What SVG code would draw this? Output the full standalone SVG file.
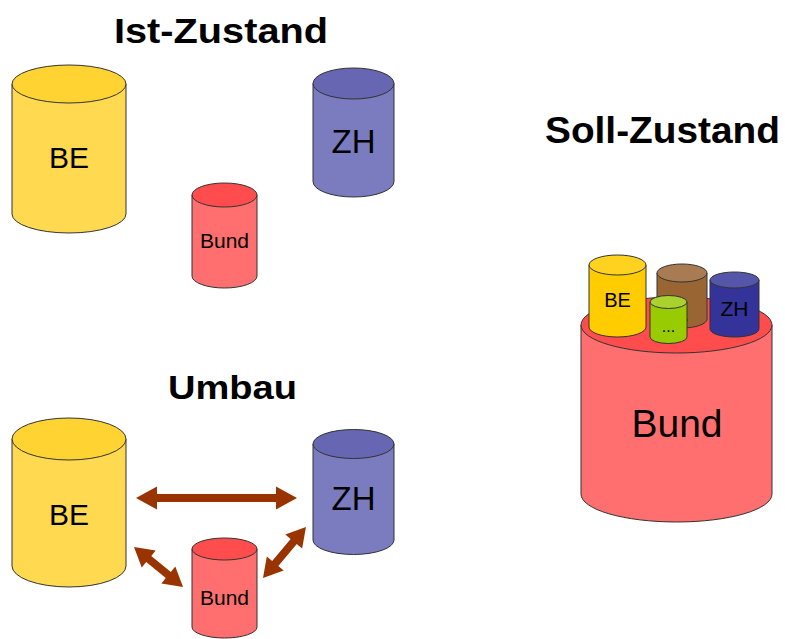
<svg xmlns="http://www.w3.org/2000/svg" width="785" height="639" viewBox="0 0 785 639">
<style>
.cyl{stroke:#333;stroke-width:1}
.lbl{font-family:"Liberation Sans",Arial,sans-serif;text-anchor:middle;fill:#000}
.title{font-family:"Liberation Sans",Arial,sans-serif;font-weight:bold;fill:#000}
.ye{fill:#FFD94F}.yeT{fill:#FFD432}
.vi{fill:#7B7BBF}.viT{fill:#6666B2}
.re{fill:#FF6F6F}.reT{fill:#FF4D4D}
.ye2{fill:#FFCC00}.ye2T{fill:#FFD21F}
.br{fill:#996633}.brT{fill:#A87B52}
.gr{fill:#99CC00}.grT{fill:#AAD22E}
.bl{fill:#333399}.blT{fill:#5555AA}
.arr{fill:#993300}
</style>
<rect width="785" height="639" fill="#fff"/>

<text class="title" x="114" y="43" font-size="35" textLength="214" lengthAdjust="spacingAndGlyphs">Ist-Zustand</text>
<text class="title" x="545" y="143" font-size="36" textLength="235" lengthAdjust="spacingAndGlyphs">Soll-Zustand</text>
<text class="title" x="168" y="399" font-size="34" textLength="129" lengthAdjust="spacingAndGlyphs">Umbau</text>

<!-- Ist-Zustand -->
<g id="ist-be">
<path class="cyl ye" d="M12,84 V214 A57,19 0 0 0 126,214 V84 Z"/>
<ellipse class="cyl yeT" cx="69" cy="84" rx="57" ry="19"/>
<text class="lbl" x="69" y="168" font-size="30">BE</text>
</g>
<g id="ist-zh">
<path class="cyl vi" d="M313,83.5 V181.5 A40.5,15.5 0 0 0 394,181.5 V83.5 Z"/>
<ellipse class="cyl viT" cx="353.5" cy="83.5" rx="40.5" ry="15.5"/>
<text class="lbl" x="353.5" y="153" font-size="33">ZH</text>
</g>
<g id="ist-bund">
<path class="cyl re" d="M192,195 V276 A32.5,12 0 0 0 257,276 V195 Z"/>
<ellipse class="cyl reT" cx="224.5" cy="195" rx="32.5" ry="12"/>
<text class="lbl" x="224.5" y="248" font-size="21">Bund</text>
</g>

<!-- Umbau -->
<g id="umbau-be">
<path class="cyl ye" d="M12,439 V566 A57,21 0 0 0 126,566 V439 Z"/>
<ellipse class="cyl yeT" cx="69" cy="439" rx="57" ry="21"/>
<text class="lbl" x="69" y="525" font-size="30">BE</text>
</g>
<g id="umbau-zh">
<path class="cyl vi" d="M313,444 V540 A40.5,14.5 0 0 0 394,540 V444 Z"/>
<ellipse class="cyl viT" cx="353.5" cy="444" rx="40.5" ry="14.5"/>
<text class="lbl" x="353.5" y="510" font-size="33">ZH</text>
</g>
<g id="umbau-bund">
<path class="cyl re" d="M192,549 V627 A32.5,11 0 0 0 257,627 V549 Z"/>
<ellipse class="cyl reT" cx="224.5" cy="549" rx="32.5" ry="11"/>
<text class="lbl" x="224.5" y="605" font-size="21">Bund</text>
</g>

<g id="connectors">
<polygon class="arr" transform="translate(136,498)" points="0,0 21,-11.5 21,-4 140,-4 140,-11.5 161,0 140,11.5 140,4 21,4 21,11.5"/>
<polygon class="arr" transform="translate(134,547) rotate(39.2)" points="0,0 19,-11 19,-4 44.3,-4 44.3,-11 63.3,0 44.3,11 44.3,4 19,4 19,11"/>
<polygon class="arr" transform="translate(263,578) rotate(-49.9)" points="0,0 19,-11 19,-4 47.7,-4 47.7,-11 66.7,0 47.7,11 47.7,4 19,4 19,11"/>
</g>

<!-- Soll-Zustand -->
<g id="soll-bund">
<path class="cyl re" d="M581,325 V494 A95.5,28 0 0 0 772,494 V325 Z"/>
<ellipse class="cyl reT" cx="676.5" cy="325" rx="95.5" ry="28"/>
<text class="lbl" x="677" y="437" font-size="39">Bund</text>
</g>
<g id="soll-be">
<path class="cyl ye2" d="M589,265 V327 A28.5,10 0 0 0 646,327 V265 Z"/>
<ellipse class="cyl ye2T" cx="617.5" cy="265" rx="28.5" ry="10"/>
<text class="lbl" x="617.5" y="307" font-size="20">BE</text>
</g>
<g id="soll-other">
<path class="cyl br" d="M657,273 V319 A25,9 0 0 0 707,319 V273 Z"/>
<ellipse class="cyl brT" cx="682" cy="273" rx="25" ry="9"/>
<text class="lbl" x="682" y="321" font-size="16">...</text>
</g>
<g id="soll-zh">
<path class="cyl bl" d="M710,280 V329 A24.5,8 0 0 0 759,329 V280 Z"/>
<ellipse class="cyl blT" cx="734.5" cy="280" rx="24.5" ry="8"/>
<text class="lbl" x="734.5" y="316" font-size="21">ZH</text>
</g>
<g id="soll-dots">
<path class="cyl gr" d="M650,302 V337 A18.5,6.5 0 0 0 687,337 V302 Z"/>
<ellipse class="cyl grT" cx="668.5" cy="302" rx="18.5" ry="6.5"/>
<text class="lbl" x="668.5" y="332" font-size="16">...</text>
</g>
</svg>
